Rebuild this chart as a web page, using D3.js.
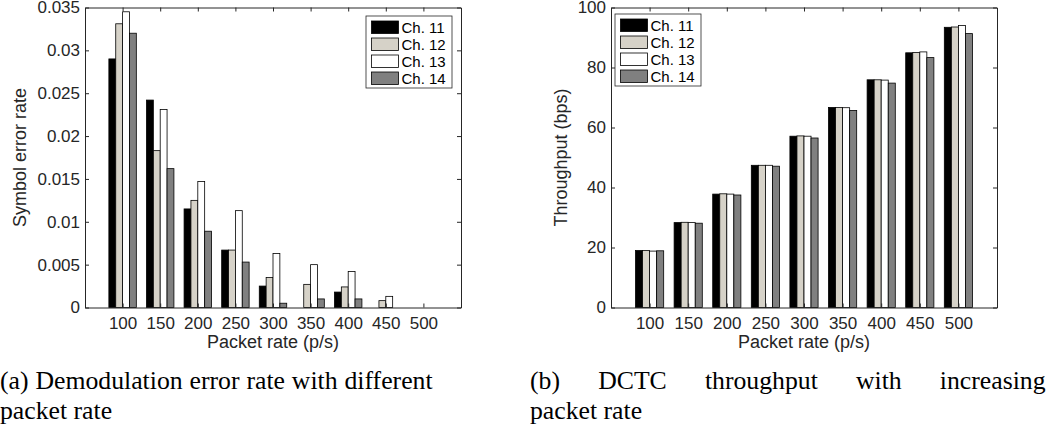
<!DOCTYPE html>
<html lang="en">
<head>
<meta charset="utf-8">
<title>SER and throughput</title>
<script src="https://d3js.org/d3.v7.min.js"></script>
<style>
  body { margin: 0; background: #fff; width: 1049px; height: 427px; overflow: hidden; position: relative; }
  svg { position: absolute; left: 0; top: 0; }
  .cap { position: absolute; font-family: "Liberation Serif", serif; font-size: 24.5px; line-height: 30px;
         color: #000; white-space: nowrap; transform: scaleX(1.05); transform-origin: 0 0; }
  .just { text-align: justify; text-align-last: justify; }
  .axis text { font-family: "Liberation Sans", Arial, sans-serif; font-size: 17px; fill: #262626; }
  .lbl { font-family: "Liberation Sans", Arial, sans-serif; font-size: 18px; fill: #262626; }
  .leg text { font-family: "Liberation Sans", Arial, sans-serif; font-size: 15px; fill: #000; }
</style>
</head>
<body>
<div id="vis"></div>
<div class="cap just" style="left:0px; top:366px; width:412px;">(a) Demodulation error rate with different</div>
<div class="cap" style="left:0px; top:396px;">packet rate</div>
<div class="cap just" style="left:530px; top:366px; width:491px;">(b) DCTC throughput with increasing</div>
<div class="cap" style="left:530px; top:396px;">packet rate</div>
<script>
// packet rates (p/s)
var rates = [100, 150, 200, 250, 300, 350, 400, 450, 500];
var channels = ["Ch. 11", "Ch. 12", "Ch. 13", "Ch. 14"];
var colors = ["#000000", "#d6d2c8", "#ffffff", "#808080"];

// symbol error rate per channel
var ser11 = [0.0290, 0.0242, 0.0115, 0.0067, 0.0025, 0, 0.0018, 0, 0];
var ser12 = [0.0331, 0.0183, 0.0125, 0.0067, 0.0035, 0.0027, 0.0024, 0.0008, 0];
var ser13 = [0.0345, 0.0231, 0.0147, 0.0113, 0.0063, 0.0050, 0.0042, 0.0013, 0];
var ser14 = [0.0320, 0.0162, 0.0089, 0.0053, 0.0005, 0.0010, 0.0010, 0, 0];

// throughput (bps) per channel
var thr11 = [19.0, 28.3, 37.8, 47.4, 57.1, 66.7, 75.9, 84.9, 93.4];
var thr12 = [19.0, 28.4, 37.9, 47.4, 57.2, 66.7, 75.9, 85.0, 93.5];
var thr13 = [18.8, 28.3, 37.8, 47.4, 57.1, 66.6, 75.8, 85.2, 94.0];
var thr14 = [18.9, 28.1, 37.5, 47.1, 56.5, 65.7, 74.8, 83.3, 91.3];

var svg = d3.select("#vis").append("svg")
  .attr("width", 1049).attr("height", 427);

var plotTop = 7.5, plotBottom = 307.5;

function styleAxis(a) {
  a.select(".domain").attr("stroke", "#262626");
  a.selectAll("line").attr("stroke", "#262626");
}

function drawChart(opt) {
  var x = d3.scaleLinear().domain([0, 10]).range([opt.left, opt.right]);
  var y = d3.scaleLinear().domain([0, opt.ymax]).range([plotBottom, plotTop]);
  var g = svg.append("g");
  var groupW = 0.73;
  var bw = groupW / 4;

  opt.series.forEach(function(s, j) {
    g.selectAll(null).data(s).enter().append("rect")
      .attr("x", function(d, i) { return x(i + 1 - groupW / 2 + j * bw); })
      .attr("width", x(bw) - x(0))
      .attr("y", function(d) { return y(d); })
      .attr("height", function(d) { return plotBottom - y(d); })
      .attr("fill", colors[j])
      .attr("stroke", "#000")
      .attr("stroke-width", 0.8);
  });

  var tickLen = 4;
  // bottom axis
  g.append("g").attr("class", "axis")
    .attr("transform", "translate(0," + plotBottom + ")")
    .call(d3.axisBottom(x).tickValues(d3.range(1, 10)).tickFormat(function(d, i) { return rates[i]; })
      .tickSizeInner(-tickLen).tickSizeOuter(0).tickPadding(9))
    .call(styleAxis);
  // top mirror ticks
  g.append("g").attr("transform", "translate(0," + plotTop + ")")
    .call(d3.axisTop(x).tickValues(d3.range(1, 10)).tickFormat("").tickSizeInner(-tickLen).tickSizeOuter(0))
    .call(styleAxis);
  // left axis
  g.append("g").attr("class", "axis")
    .attr("transform", "translate(" + opt.left + ",0)")
    .call(d3.axisLeft(y).tickValues(opt.yticks).tickFormat(opt.fmt).tickSizeInner(-tickLen).tickSizeOuter(0).tickPadding(5))
    .call(styleAxis);
  // right mirror ticks
  g.append("g").attr("transform", "translate(" + opt.right + ",0)")
    .call(d3.axisRight(y).tickValues(opt.yticks).tickFormat("").tickSizeInner(-tickLen).tickSizeOuter(0))
    .call(styleAxis);

  svg.append("text").attr("class", "lbl")
    .attr("x", (opt.left + opt.right) / 2).attr("y", 348)
    .attr("text-anchor", "middle").text("Packet rate (p/s)");
  svg.append("text").attr("class", "lbl")
    .attr("transform", "translate(" + opt.ylx + "," + (plotTop + plotBottom) / 2 + ") rotate(-90)")
    .attr("text-anchor", "middle").text(opt.ylabel);

  // legend
  var lg = svg.append("g").attr("class", "leg")
    .attr("transform", "translate(" + opt.leg[0] + "," + opt.leg[1] + ")");
  lg.append("rect").attr("width", 86).attr("height", 72)
    .attr("fill", "#fff").attr("stroke", "#262626").attr("stroke-width", 0.8);
  channels.forEach(function(c, j) {
    lg.append("rect").attr("x", 5.5).attr("y", 5 + j * 17).attr("width", 27).attr("height", 12.5)
      .attr("fill", colors[j]).attr("stroke", "#000").attr("stroke-width", 0.8);
    lg.append("text").attr("x", 35.5).attr("y", 16.5 + j * 17).text(c);
  });
}

drawChart({
  left: 85, right: 461, ymax: 0.035,
  yticks: [0, 0.005, 0.01, 0.015, 0.02, 0.025, 0.03, 0.035],
  fmt: function(d) { return d === 0 ? "0" : String(+d.toFixed(3)); },
  series: [ser11, ser12, ser13, ser14],
  ylabel: "Symbol error rate", ylx: 26,
  leg: [366, 16]
});

drawChart({
  left: 611, right: 997, ymax: 100,
  yticks: [0, 20, 40, 60, 80, 100],
  fmt: d3.format("d"),
  series: [thr11, thr12, thr13, thr14],
  ylabel: "Throughput (bps)", ylx: 567,
  leg: [615, 14]
});
</script>
</body>
</html>
